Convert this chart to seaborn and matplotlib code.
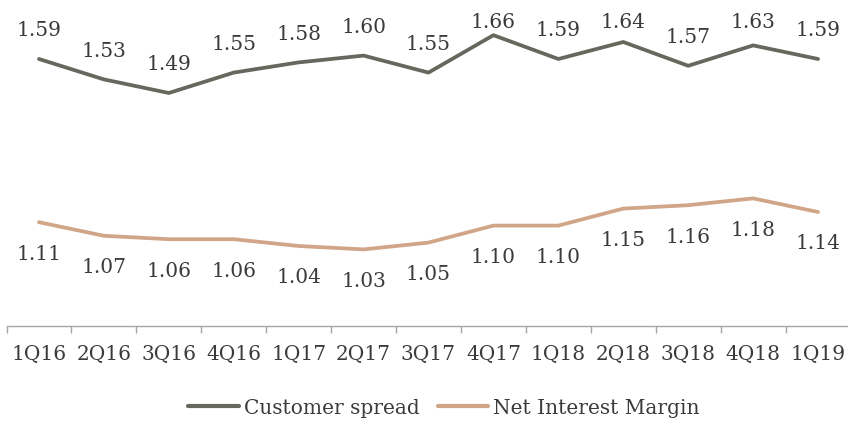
import matplotlib
matplotlib.use("Agg")
import matplotlib.pyplot as plt
import seaborn as sns
import pandas as pd

quarters = ["1Q16", "2Q16", "3Q16", "4Q16", "1Q17", "2Q17", "3Q17",
            "4Q17", "1Q18", "2Q18", "3Q18", "4Q18", "1Q19"]
customer_spread = [1.59, 1.53, 1.49, 1.55, 1.58, 1.60, 1.55,
                   1.66, 1.59, 1.64, 1.57, 1.63, 1.59]
net_interest_margin = [1.11, 1.07, 1.06, 1.06, 1.04, 1.03, 1.05,
                       1.10, 1.10, 1.15, 1.16, 1.18, 1.14]
series_names = ["Customer spread", "Net Interest Margin"]

sns.set_style("white")
plt.rcParams["font.family"] = ["DejaVu Serif"]

text_color = "#3b3b3b"
palette = {"Customer spread": "#65685c", "Net Interest Margin": "#d1a587"}

df = pd.DataFrame({
    "quarter": quarters * 2,
    "pos": list(range(len(quarters))) * 2,
    "value": customer_spread + net_interest_margin,
    "series": [series_names[0]] * len(quarters) + [series_names[1]] * len(quarters),
})

W, H = 848, 421
fig = plt.figure(figsize=(W / 100, H / 100), dpi=100)
ax = fig.add_axes([6.5 / W, 95 / H, 844 / W, 326 / H])

sns.lineplot(data=df, x="pos", y="value", hue="series", palette=palette,
             linewidth=2.7, ax=ax, legend=True, sort=False)

ymin, ymax = 0.8047, 1.7635
ax.set_xlim(-0.5, len(quarters) - 0.5)
ax.set_ylim(ymin, ymax)
px_per_unit = 326 / (ymax - ymin)

# value labels: above the spread line (kept inside the plot top), below the margin line
fs = 14.5
for i, v in enumerate(customer_spread):
    ly = min(v + 28 / px_per_unit, ymax - 23 / px_per_unit)
    ax.text(i, ly, f"{v:.2f}", ha="center", va="center", fontsize=fs, color=text_color)
for i, v in enumerate(net_interest_margin):
    ly = v - 32 / px_per_unit
    ax.text(i, ly, f"{v:.2f}", ha="center", va="center", fontsize=fs, color=text_color)

# category axis with tick marks between the quarters
ax.set_xticks([i + 0.5 for i in range(-1, len(quarters))], minor=False)
ax.set_xticklabels([])
ax.set_xticks(range(len(quarters)), minor=True)
ax.set_xticklabels(quarters, minor=True, fontsize=fs, color=text_color)
ax.tick_params(axis="x", which="major", bottom=True, length=5, width=1,
               color="#a6a6a6", direction="out")
ax.tick_params(axis="x", which="minor", bottom=True, length=0, pad=14)
ax.set_yticks([])
ax.set_xlabel("")
ax.set_ylabel("")
for side in ["top", "right", "left"]:
    ax.spines[side].set_visible(False)
ax.spines["bottom"].set_color("#a6a6a6")
ax.spines["bottom"].set_linewidth(1)

handles, labels = ax.get_legend_handles_labels()
ax.get_legend().remove()
for h in handles:
    h.set_linewidth(3)
leg = fig.legend(handles, labels, loc="center", bbox_to_anchor=(444 / W, 13 / H),
                 ncol=2, frameon=False, fontsize=fs, handlelength=2.5,
                 handletextpad=0.25, columnspacing=0.9, borderaxespad=0)
for t in leg.get_texts():
    t.set_color(text_color)

fig.savefig("out.png", dpi=100)
